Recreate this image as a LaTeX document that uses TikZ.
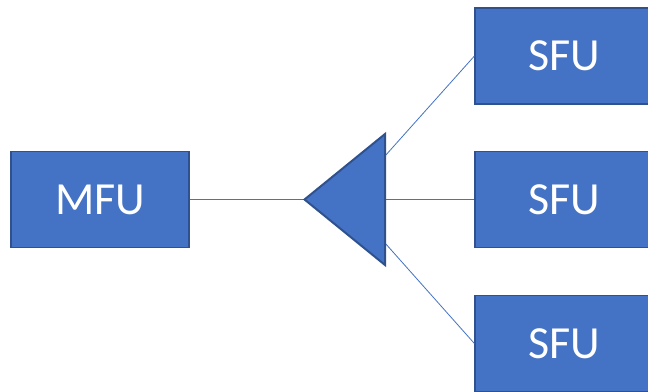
\documentclass[tikz,border=0pt]{standalone}
\usepackage{fontspec}
\setmainfont{Carlito}

\begin{document}
\begin{tikzpicture}[x=1pt, y=-1pt]
            \definecolor{unitblue}{HTML}{4472C4}
            \definecolor{unitedge}{HTML}{2F528F}
            \tikzstyle{unit} = [draw=unitedge, line width=1.2pt, fill=unitblue, minimum width=178pt, minimum height=96pt, text=white, font=\fontsize{46}{50}\selectfont, inner sep=0pt]
            \tikzstyle{wire} = [draw=unitblue, line width=0.8pt]
            \useasboundingbox (0, 0) rectangle (648, 391);
            \clip (0, 0) rectangle (648, 391);
            \fill[white] (0, 0) rectangle (648, 391);
            \node[unit] (mfu) at (100, 199.5) {MFU};
            \node[unit] (sfu1) at (564, 56) {SFU};
            \node[unit] (sfu2) at (564, 199.5) {SFU};
            \node[unit] (sfu3) at (564, 343.5) {SFU};
            % splitter
            \coordinate (tip) at (304.5, 199.5);
            \coordinate (top) at (385, 134);
            \coordinate (bot) at (385, 265);
            \coordinate (out1) at (385, 156);
            \coordinate (out2) at (385, 199.5);
            \coordinate (out3) at (385, 243);
            \draw[wire] (mfu.east) -- (tip);
            \draw[wire] (out1) -- (sfu1.west);
            \draw[wire] (out2) -- (sfu2.west);
            \draw[wire] (out3) -- (sfu3.west);
            \filldraw[fill=unitblue, draw=unitedge, line width=2pt, line join=miter] (tip) -- (top) -- (bot) -- cycle;
        \end{tikzpicture}
\end{document}
